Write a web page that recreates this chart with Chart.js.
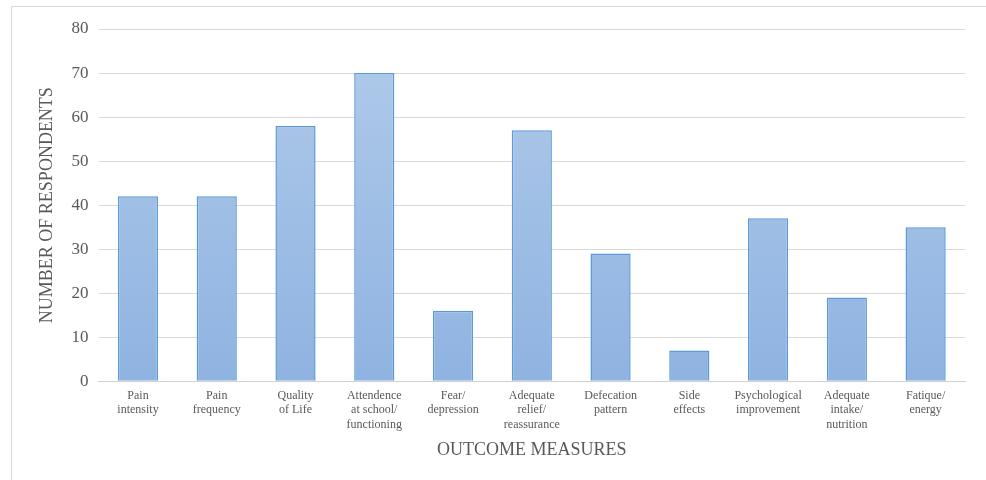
<!DOCTYPE html>
<html>
<head>
<meta charset="utf-8">
<script src="https://cdn.jsdelivr.net/npm/chart.js@4.4.1/dist/chart.umd.min.js"></script>
<style>
    body { margin: 0; background: #fff; }
    #wrap { position: relative; width: 986px; height: 480px; overflow: hidden; }
    #frame {
        position: absolute; left: 11px; top: 6px; width: 1000px; height: 500px;
        border-top: 1px solid #d9d9d9; border-left: 1px solid #d9d9d9;
    }
    canvas { position: absolute; left: 0; top: 0; }
</style>
</head>
<body>
<div id="wrap">
    <div id="frame"></div>
    <canvas id="chart" width="986" height="480"></canvas>
</div>
<script>
// outcome measures (x categories), multi-line labels
const categories = [
    ["Pain", "intensity"],
    ["Pain", "frequency"],
    ["Quality", "of Life"],
    ["Attendence", "at school/", "functioning"],
    ["Fear/", "depression"],
    ["Adequate", "relief/", "reassurance"],
    ["Defecation", "pattern"],
    ["Side", "effects"],
    ["Psychological", "improvement"],
    ["Adequate", "intake/", "nutrition"],
    ["Fatique/", "energy"],
];

// number of respondents per measure
const respondents = [42, 42, 58, 70, 16, 57, 29, 7, 37, 19, 35];

const yTicks = { min: 0, max: 80, step: 10 };

const serif = "'Liberation Serif', 'Times New Roman', serif";
const textColor = "#595959";

// light-to-darker blue fill like the office chart style
function barGradient(context) {
    const { ctx, chartArea } = context.chart;
    if (!chartArea) return "#a3c0e6";
    const g = ctx.createLinearGradient(0, chartArea.top, 0, chartArea.bottom);
    g.addColorStop(0, "#b1cbea");
    g.addColorStop(1, "#8fb3e1");
    return g;
}

const config = {
    type: "bar",
    data: {
        labels: categories,
        datasets: [
            {
                label: "Respondents",
                data: respondents,
                backgroundColor: barGradient,
                borderColor: "#5b9bd5",
                borderWidth: 1.5,
                barPercentage: 0.51,
                categoryPercentage: 1,
            },
        ],
    },
    options: {
        responsive: false,
        animation: false,
        layout: { padding: { left: 36, right: 21, top: 29, bottom: 19 } },
        plugins: {
            legend: { display: false },
            tooltip: { enabled: false },
        },
        scales: {
            x: {
                grid: { display: false, drawTicks: false },
                border: { display: true, color: "#d0d0d0", width: 1 },
                ticks: {
                    color: textColor,
                    font: { family: serif, size: 12, lineHeight: 1.17 },
                    maxRotation: 0,
                    autoSkip: false,
                    padding: 8,
                },
                title: {
                    display: true,
                    text: "OUTCOME MEASURES",
                    color: textColor,
                    font: { family: serif, size: 18 },
                    padding: { top: 0, bottom: 0 },
                },
            },
            y: {
                min: yTicks.min,
                max: yTicks.max,
                grid: { color: "#d9d9d9", lineWidth: 1, drawTicks: false },
                border: { display: false },
                ticks: {
                    stepSize: yTicks.step,
                    color: textColor,
                    font: { family: serif, size: 17 },
                    padding: 10,
                },
                title: {
                    display: true,
                    text: "NUMBER OF RESPONDENTS",
                    color: textColor,
                    font: { family: serif, size: 18 },
                    padding: { top: 0, bottom: 4 },
                },
            },
        },
    },
};

new Chart(document.getElementById("chart"), config);
</script>
</body>
</html>
